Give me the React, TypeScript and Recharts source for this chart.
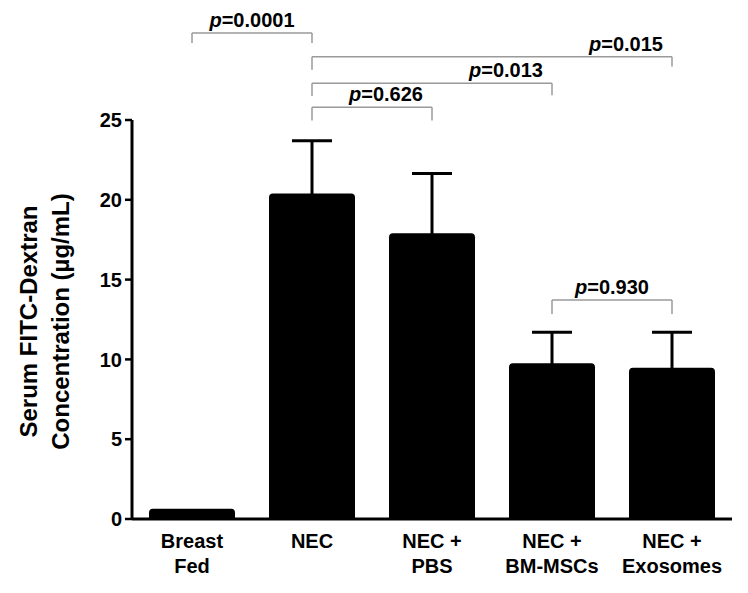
import React from 'react';
import { BarChart, Bar, XAxis, YAxis, ErrorBar, ReferenceLine } from 'recharts';

const categories = ['Breast Fed', 'NEC', 'NEC + PBS', 'NEC + BM-MSCs', 'NEC + Exosomes'];
const tickLines = [['Breast', 'Fed'], ['NEC'], ['NEC +', 'PBS'], ['NEC +', 'BM-MSCs'], ['NEC +', 'Exosomes']];
const means = [0.65, 20.4, 17.9, 9.76, 9.47];
const errors: (number | null)[] = [null, 3.3, 3.75, 1.94, 2.23];
const yTicks = [0, 5, 10, 15, 20, 25];

const bracketFrom = ['Breast Fed', 'NEC', 'NEC', 'NEC', 'NEC + BM-MSCs'];
const bracketTo = ['NEC', 'NEC + Exosomes', 'NEC + BM-MSCs', 'NEC + PBS', 'NEC + Exosomes'];
const bracketY = [30.45, 28.97, 27.3, 25.8, 13.72];
const bracketLeftLeg = [29.82, 28.15, 26.5, 24.97, 12.85];
const bracketRightLeg = [29.82, 28.35, 26.55, 24.97, 12.85];
const pValues = ['0.0001', '0.015', '0.013', '0.626', '0.930'];
const labelAlign = ['middle', 'end', 'end', 'end', 'middle'];

const FONT = "'Liberation Sans', Arial, Helvetica, sans-serif";

const data = categories.map((name, i) => ({
  name,
  value: means[i],
  err: errors[i],
}));

const XTick = (props: any) => {
  const { x, y, payload } = props;
  const idx = categories.indexOf(payload.value);
  const lines = tickLines[idx] || [payload.value];
  return (
    <text x={x} y={y} textAnchor="middle" fontFamily={FONT} fontWeight="bold" fontSize={20} fill="#000">
      {lines.map((l, i) => (
        <tspan key={i} x={x} dy={i === 0 ? 21 : 25}>{l}</tspan>
      ))}
    </text>
  );
};

const YLabel = (props: any) => {
  const vb = props.viewBox || { x: 0, y: 120, width: 132, height: 399 };
  const cy = vb.y + vb.height / 2 + 2;
  const x1 = vb.x + 37;
  const x2 = vb.x + 69;
  return (
    <g>
      <text x={x1} y={cy} transform={`rotate(-90, ${x1}, ${cy})`} textAnchor="middle" fontFamily={FONT} fontWeight="bold" fontSize={24} fill="#000">
        Serum FITC-Dextran
      </text>
      <text x={x2} y={cy} transform={`rotate(-90, ${x2}, ${cy})`} textAnchor="middle" fontFamily={FONT} fontWeight="bold" fontSize={24} fill="#000">
        Concentration (µg/mL)
      </text>
    </g>
  );
};

const makePLabel = (value: string, align: string) => (props: any) => {
  const vb = props.viewBox;
  if (!vb) return null;
  const x = align === 'middle' ? vb.x + vb.width / 2 : vb.x + vb.width - 9;
  return (
    <text x={x} y={vb.y - 6} textAnchor={align} fontFamily={FONT} fontWeight="bold" fontSize={20} fill="#000">
      <tspan fontStyle="italic">p</tspan>={value}
    </text>
  );
};

const BRACKET = '#9a9a9a';

export default function App() {
  return (
    <div style={{ position: 'absolute', left: 0, top: 0, width: 748, height: 593, background: '#fff' }}>
      <BarChart width={748} height={593} data={data} margin={{ top: 120, right: 16, bottom: 0, left: 0 }}>
        <XAxis
          dataKey="name"
          height={74}
          interval={0}
          tickLine={false}
          axisLine={{ stroke: '#000', strokeWidth: 3 }}
          tick={<XTick />}
        />
        <YAxis
          width={132}
          domain={[0, 25]}
          ticks={yTicks}
          interval={0}
          tickSize={7}
          tickMargin={3}
          axisLine={{ stroke: '#000', strokeWidth: 3 }}
          tickLine={{ stroke: '#000', strokeWidth: 2.5 }}
          tick={{ fontFamily: FONT, fontWeight: 'bold', fontSize: 20, fill: '#000' }}
          label={{ content: <YLabel /> } as any}
        />
        <Bar dataKey="value" fill="#000" barSize={86} radius={[4, 4, 0, 0]} isAnimationActive={false}>
          <ErrorBar dataKey="err" width={20} stroke="#000" strokeWidth={3} isAnimationActive={false} />
        </Bar>
        {bracketFrom.map((from, i) => (
          <ReferenceLine
            key={`h${i}`}
            segment={[{ x: from, y: bracketY[i] }, { x: bracketTo[i], y: bracketY[i] }]}
            stroke={BRACKET}
            strokeWidth={1.5}
            ifOverflow="visible"
            label={{ content: makePLabel(pValues[i], labelAlign[i]) } as any}
          />
        ))}
        {bracketFrom.map((from, i) => (
          <ReferenceLine
            key={`l${i}`}
            segment={[{ x: from, y: bracketY[i] }, { x: from, y: bracketLeftLeg[i] }]}
            stroke={BRACKET}
            strokeWidth={1.5}
            ifOverflow="visible"
          />
        ))}
        {bracketFrom.map((from, i) => (
          <ReferenceLine
            key={`r${i}`}
            segment={[{ x: bracketTo[i], y: bracketY[i] }, { x: bracketTo[i], y: bracketRightLeg[i] }]}
            stroke={BRACKET}
            strokeWidth={1.5}
            ifOverflow="visible"
          />
        ))}
      </BarChart>
    </div>
  );
}
